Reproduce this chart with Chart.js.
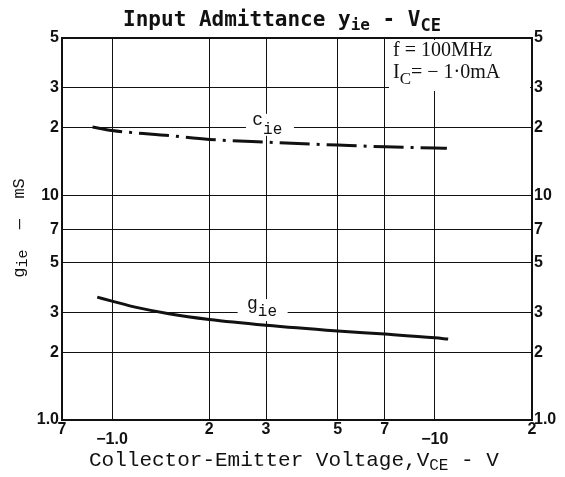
<!DOCTYPE html>
<html>
<head>
<meta charset="utf-8">
<script src="https://cdn.jsdelivr.net/npm/chart.js@4.4.1/dist/chart.umd.min.js"></script>
<style>
  html, body { margin: 0; padding: 0; background: #fff; }
  #wrap { width: 565px; height: 477px; position: relative; }
</style>
</head>
<body>
<div id="wrap"><canvas id="c"></canvas></div>
<script>
// values (VCE magnitude in volts)
const gieVce = [0.9, 1.0, 1.2, 1.5, 2, 3, 5, 7, 10, 11];
const gieMs = [3.52, 3.38, 3.16, 2.97, 2.8, 2.64, 2.49, 2.41, 2.32, 2.29];
const cieVce = [0.87, 1.0, 1.5, 2, 3, 5, 7, 10, 10.9];
const ciePf = [20.1, 19.4, 18.4, 17.7, 17.2, 16.7, 16.4, 16.2, 16.15];

// axis ticks
const xTickValues = [0.7, 1, 2, 3, 5, 7, 10, 20];
const xTickLabels = ['7', ['', '\u22121.0'], '2', '3', '5', '7', ['', '\u221210'], '2'];
const yTickValues = [1, 2, 3, 5, 7, 10, 20, 30, 50];
const yTickLabels = ['1.0', '2', '3', '5', '7', '10', '2', '3', '5'];

const tickFont = { family: 'Liberation Sans', size: 16, weight: 'bold', lineHeight: 0.65 };
const ink = '#111';

const toPoints = (xs, ys) => xs.map((x, i) => ({ x, y: ys[i] }));

// draws a run of text pieces, each [text, font, dy]
function drawParts(ctx, parts, x, y, align) {
  let w = 0;
  parts.forEach(p => { ctx.font = p[1]; w += ctx.measureText(p[0]).width; });
  let cx = align === 'center' ? x - w / 2 : x;
  parts.forEach(p => {
    ctx.font = p[1];
    ctx.fillText(p[0], cx, y + (p[2] || 0));
    cx += ctx.measureText(p[0]).width;
  });
  return w;
}

const mono = (s) => s + 'px "Liberation Mono"';
const monoBold = (s) => 'bold ' + s + 'px "DejaVu Sans Mono"';
const serif = (s) => s + 'px "Liberation Serif"';

const textPlugin = {
  id: 'texts',
  beforeDatasetsDraw(chart) {
    const { ctx, chartArea: a, scales } = chart;
    const sx = scales.x, sy = scales.y;
    ctx.save();
    ctx.fillStyle = '#fff';
    // condition box top right
    ctx.fillRect(a.right - 143, a.top + 2, 141, 51);
    // gaps behind curve labels
    ctx.fillRect(sx.getPixelForValue(2.6), sy.getPixelForValue(23), 48, 22);
    ctx.fillRect(sx.getPixelForValue(2.45), sy.getPixelForValue(3.45), 50, 22);
    ctx.restore();
  },
  afterDraw(chart) {
    const { ctx, chartArea: a, scales } = chart;
    const sx = scales.x, sy = scales.y;
    ctx.save();
    ctx.fillStyle = ink;
    ctx.textBaseline = 'alphabetic';

    // title
    drawParts(ctx, [
      ['Input Admittance y', monoBold(21)],
      ['ie', monoBold(16), 4],
      [' - V', monoBold(21)],
      ['CE', monoBold(17), 5]
    ], 282, 26, 'center');

    // x axis title
    drawParts(ctx, [
      ['Collector-Emitter Voltage,V', mono(21)],
      ['CE', mono(16), 4],
      [' - V', mono(21)]
    ], 89, 466, 'left');

    // y axis title
    ctx.save();
    ctx.translate(24, 228);
    ctx.rotate(-Math.PI / 2);
    drawParts(ctx, [
      ['g', mono(17)],
      ['ie', mono(15), 3],
      ['  \u2014  ', mono(17)],
      ['mS', mono(17)]
    ], 0, 0, 'center');
    ctx.restore();

    // curve labels
    drawParts(ctx, [['c', mono(18)], ['ie', mono(16), 9]],
      sx.getPixelForValue(2.72), sy.getPixelForValue(20.6), 'left');
    drawParts(ctx, [['g', mono(18)], ['ie', mono(16), 7]],
      sx.getPixelForValue(2.62), sy.getPixelForValue(3.13), 'left');

    // conditions
    drawParts(ctx, [['f = 100MHz', serif(20)]], a.right - 139, a.top + 18, 'left');
    drawParts(ctx, [
      ['I', serif(20)],
      ['C', serif(17), 6],
      ['= \u2212 1\u00b70mA', serif(20)]
    ], a.right - 139, a.top + 40, 'left');
    ctx.restore();
  }
};

const edgeWidth = (vals) => (c) => (c.tick && vals.includes(c.tick.value) ? 2 : 1);

new Chart(document.getElementById('c'), {
  type: 'line',
  data: {
    datasets: [
      {
        label: 'gie',
        data: toPoints(gieVce, gieMs),
        borderColor: ink,
        borderWidth: 3,
        pointRadius: 0,
        cubicInterpolationMode: 'monotone',
        yAxisID: 'y'
      },
      {
        label: 'cie',
        data: toPoints(cieVce, ciePf),
        borderColor: ink,
        borderWidth: 3,
        borderDash: [30, 7, 3, 7],
        pointRadius: 0,
        cubicInterpolationMode: 'monotone',
        yAxisID: 'y'
      }
    ]
  },
  options: {
    responsive: true,
    maintainAspectRatio: false,
    animation: false,
    layout: { padding: { top: 38, left: 0, right: 0, bottom: 0 } },
    plugins: {
      legend: { display: false },
      tooltip: { enabled: false },
      title: { display: false }
    },
    scales: {
      x: {
        type: 'logarithmic',
        min: 0.7,
        max: 20,
        afterBuildTicks: (s) => { s.ticks = xTickValues.map(v => ({ value: v })); },
        afterFit: (s) => { s.height = 57; },
        grid: { color: ink, lineWidth: edgeWidth([0.7, 20]), drawTicks: false },
        border: { display: true, color: ink, width: 2 },
        ticks: {
          autoSkip: false,
          maxRotation: 0,
          padding: 4,
          color: ink,
          font: tickFont,
          callback: (v) => xTickLabels[xTickValues.indexOf(v)]
        }
      },
      y: {
        type: 'logarithmic',
        position: 'left',
        min: 1,
        max: 50,
        afterBuildTicks: (s) => { s.ticks = yTickValues.map(v => ({ value: v })); },
        afterFit: (s) => { s.width = 62; },
        grid: { color: ink, lineWidth: edgeWidth([1, 50]), drawTicks: false },
        border: { display: true, color: ink, width: 2 },
        ticks: {
          padding: 3,
          color: ink,
          font: tickFont,
          callback: (v) => yTickLabels[yTickValues.indexOf(v)]
        }
      },
      y2: {
        type: 'logarithmic',
        position: 'right',
        min: 1,
        max: 50,
        afterBuildTicks: (s) => { s.ticks = yTickValues.map(v => ({ value: v })); },
        afterFit: (s) => { s.width = 33; },
        grid: { display: false, drawTicks: false },
        border: { display: true, color: ink, width: 2 },
        ticks: {
          padding: 2,
          color: ink,
          font: tickFont,
          callback: (v) => yTickLabels[yTickValues.indexOf(v)]
        }
      }
    }
  },
  plugins: [textPlugin]
});
</script>
</body>
</html>
